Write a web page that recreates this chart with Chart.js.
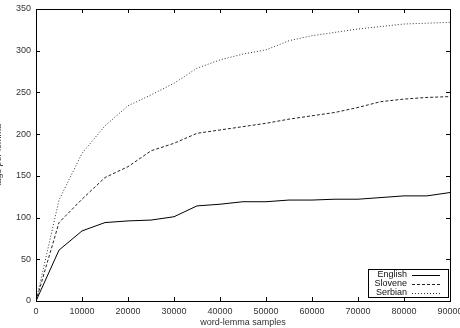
<!DOCTYPE html>
<html><head><meta charset="utf-8">
<script src="https://cdn.jsdelivr.net/npm/chart.js@4"></script>
<style>html,body{margin:0;padding:0;background:#fff}canvas{display:block}</style>
</head><body>
<canvas id="c" width="460" height="328"></canvas>
<script>
const samples = [0,5000,10000,15000,20000,25000,30000,35000,40000,45000,50000,55000,60000,65000,70000,75000,80000,85000,90000];
const english = [0,61,84,94,96,97,101,114,116,119,119,121,121,122,122,124,126,126,130];
const slovene = [0,94,122,148,161,180,189,201,205,209,213,218,222,226,232,239,242,244,245];
const serbian = [0,121,177,210,234,247,261,279,289,296,301,312,318,322,326,329,332,333,334];
const seriesNames = ['English','Slovene','Serbian'];
const xTitle = 'word-lemma samples';
const yTitle = 'tags per lemma';

const FONT = '9px "Liberation Sans", Arial, sans-serif';
const toXY = arr => arr.map((v,i)=>({x:samples[i], y:v}));

const framePlugin = {
  id:'frame',
  afterDraw(chart){
    const {ctx, chartArea:a, scales:{x,y}} = chart;
    ctx.save();
    ctx.strokeStyle='#000'; ctx.lineWidth=1; ctx.setLineDash([]);
    ctx.strokeRect(Math.round(a.left)+0.5, Math.round(a.top)+0.5, Math.round(a.right-a.left), Math.round(a.bottom-a.top));
    const L=4;
    ctx.beginPath();
    x.ticks.forEach(t=>{ const px=Math.round(x.getPixelForValue(t.value))+0.5;
      ctx.moveTo(px,a.bottom); ctx.lineTo(px,a.bottom-L);
      ctx.moveTo(px,a.top); ctx.lineTo(px,a.top+L);});
    y.ticks.forEach(t=>{ const py=Math.round(y.getPixelForValue(t.value))+0.5;
      ctx.moveTo(a.left,py); ctx.lineTo(a.left+L,py);
      ctx.moveTo(a.right,py); ctx.lineTo(a.right-L,py);});
    ctx.stroke();
    // y title, rotated, mostly off canvas
    ctx.fillStyle='#444'; ctx.font=FONT;
    ctx.translate(-1.5,(a.top+a.bottom)/2); ctx.rotate(-Math.PI/2);
    ctx.textAlign='center'; ctx.textBaseline='middle';
    ctx.fillText(yTitle,0,0);
    ctx.restore();
    // legend
    ctx.save();
    const bx=368.5, by=269.5, bw=80, bh=28;
    ctx.fillStyle='#fff'; ctx.fillRect(bx,by,bw,bh);
    ctx.strokeStyle='#000'; ctx.lineWidth=1; ctx.strokeRect(bx,by,bw,bh);
    ctx.font=FONT; ctx.textAlign='right'; ctx.textBaseline='middle'; ctx.fillStyle='#111';
    chart.data.datasets.forEach((ds,i)=>{
      const ly=by+5+i*9.2;
      ctx.fillText(ds.label, 407, ly);
      ctx.strokeStyle=ds.borderColor; ctx.setLineDash(ds.borderDash||[]);
      ctx.beginPath(); ctx.moveTo(412,Math.round(ly)+0.5); ctx.lineTo(440,Math.round(ly)+0.5); ctx.stroke();
    });
    ctx.restore();
  }
};

new Chart(document.getElementById('c'), {
  type:'line',
  data:{datasets:[
    {label:seriesNames[0], data:toXY(english), borderColor:'#000', borderWidth:1, pointRadius:0, tension:0, fill:false},
    {label:seriesNames[1], data:toXY(slovene), borderColor:'#222', borderWidth:1, borderDash:[3,2], pointRadius:0, tension:0, fill:false},
    {label:seriesNames[2], data:toXY(serbian), borderColor:'#333', borderWidth:1, borderDash:[1,2], pointRadius:0, tension:0, fill:false}
  ]},
  options:{
    responsive:false, animation:false, devicePixelRatio:1,
    layout:{padding:{left:0,right:10,top:9,bottom:0}},
    plugins:{legend:{display:false}, tooltip:{enabled:false}},
    scales:{
      x:{type:'linear', min:0, max:90000,
        grid:{display:false, drawTicks:false}, border:{display:false},
        ticks:{stepSize:10000, autoSkip:false, maxRotation:0, padding:5, color:'#333', font:{family:'"Liberation Sans", Arial, sans-serif', size:9},
          callback:v=>String(v)},
        title:{display:true, text:xTitle, color:'#333', padding:{top:2,bottom:0}, font:{family:'"Liberation Sans", Arial, sans-serif', size:9}},
        afterFit:s=>{s.height=27; s.paddingLeft=0; s.paddingRight=0;}
      },
      y:{min:0, max:350,
        grid:{display:false, drawTicks:false}, border:{display:false},
        ticks:{stepSize:50, padding:5, color:'#333', font:{family:'"Liberation Sans", Arial, sans-serif', size:9}},
        afterFit:s=>{s.width=36; s.paddingTop=0; s.paddingBottom=0;}
      }
    }
  },
  plugins:[framePlugin]
});
</script>
</body></html>
